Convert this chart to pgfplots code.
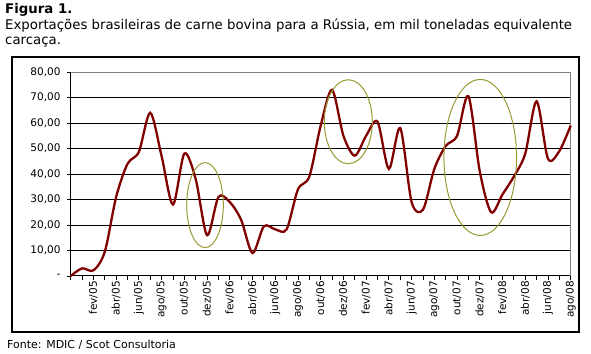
\documentclass[border=0pt]{standalone}
\usepackage{pgfplots}
\pgfplotsset{compat=1.18}
\usepackage{fontspec}
\setmainfont{DejaVu Sans}
\definecolor{linered}{RGB}{128,0,0}
\definecolor{ellcol}{RGB}{153,153,51}
\pgfplotstableread{
x y
0 0
1 3
2 2.2
3 9.5
4 31
5 44
6 48.7
7 64
8 47
9 28
10 48
11 38
12 16
13 31
14 29
15 22
16 9
17 19.5
18 18.3
19 18.3
20 34
21 39
22 59
23 73
24 55
25 47.2
26 55
27 60.5
28 42
29 58
30 29
31 26
32 42
33 51
34 55
35 70.5
36 41
37 25
38 32
39 39
40 48
41 68.5
42 46
43 49
44 59
}\datatable
\begin{document}
\begin{tikzpicture}[x=1pt,y=1pt]
\useasboundingbox (0,0) rectangle (591,353);
% title
\node[anchor=base west,inner sep=0,font=\fontsize{13.3}{15}\selectfont\bfseries] at (5,339) {Figura 1.};
\node[anchor=base west,inner sep=0,font=\fontsize{13.3}{15}\selectfont] at (5,323) {Exportações brasileiras de carne bovina para a Rússia, em mil toneladas equivalente};
\node[anchor=base west,inner sep=0,font=\fontsize{13.3}{15}\selectfont] at (5,308) {carcaça.};
% frame
\draw[line width=1.2pt] (12,21) rectangle (579,296);
% source
\node[anchor=base west,inner sep=0,font=\fontsize{11}{12}\selectfont] at (7,5) {Fonte: MDIC / Scot Consultoria};
\begin{axis}[
  at={(70.7pt,77pt)}, anchor=south west,
  scale only axis, width=500pt, height=204pt,
  xmin=0, xmax=44, ymin=0, ymax=80,
  axis x line*=bottom, axis y line*=left,
  axis line style={black, line width=1pt, -},
  ytick={0,10,...,80},
  yticklabels={{-\hspace{14pt}},{10,00},{20,00},{30,00},{40,00},{50,00},{60,00},{70,00},{80,00}},
  ymajorgrids, grid style={black, line width=1pt},
  xtick={2,4,...,44},
  minor xtick={0,...,44},
  xticklabels={fev/05,abr/05,jun/05,ago/05,out/05,dez/05,fev/06,abr/06,jun/06,ago/06,out/06,dez/06,fev/07,abr/07,jun/07,ago/07,out/07,dez/07,fev/08,abr/08,jun/08,ago/08},
  tick align=outside,
  major tick length=4pt, minor tick length=4pt,
  tick style={black, line width=0.8pt},
  every tick label/.append style={font=\fontsize{10.5}{12}\selectfont},
  xticklabel style={rotate=90, anchor=east, inner sep=1pt},
  yticklabel style={inner sep=2pt, xshift=-4pt},
  /pgf/number format/assume math mode=true,
  clip=false,
]
\draw[gray, line width=1pt] (axis cs:0,80) -- (axis cs:44,80) -- (axis cs:44,0);
\addplot[linered, line width=2.3pt, smooth, tension=0.5, no marks] table[x=x,y=y] {\datatable};
\draw[ellcol, line width=1pt] (axis cs:11.82,27.8) ellipse [x radius=18.3pt, y radius=42.5pt];
\draw[ellcol, line width=1pt] (axis cs:24.43,60.5) ellipse [x radius=24pt, y radius=42pt];
\draw[ellcol, line width=1pt] (axis cs:36.04,46.5) ellipse [x radius=36.3pt, y radius=78pt];
\end{axis}
\end{tikzpicture}
\end{document}
